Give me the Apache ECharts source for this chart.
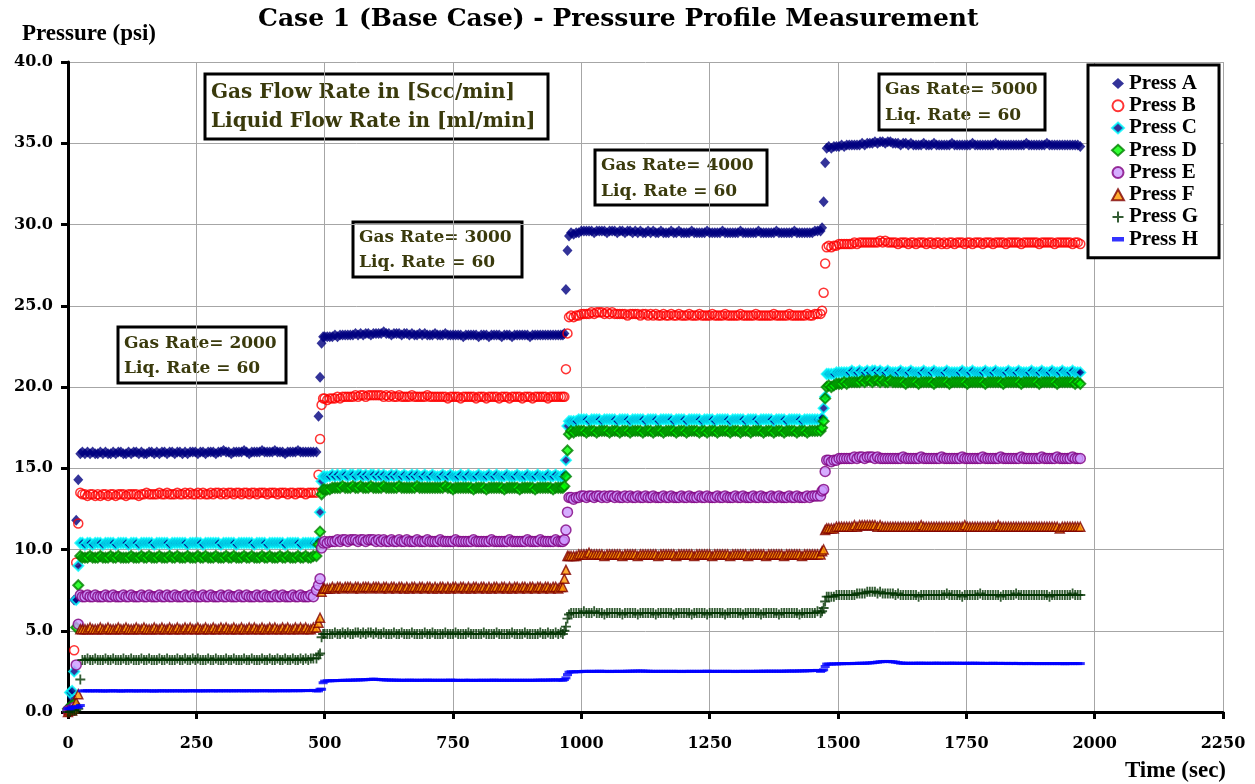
<!DOCTYPE html>
<html>
<head>
<meta charset="utf-8">
<title>Case 1 (Base Case) - Pressure Profile Measurement</title>
<script src="https://cdn.jsdelivr.net/npm/echarts@6/dist/echarts.min.js"></script>
<style>
  html, body { margin: 0; padding: 0; background: #ffffff; }
  #chart { width: 1255px; height: 784px; }
</style>
</head>
<body>
<div id="chart"></div>
<script>
// Sample times (sec): start-up, then four flow-rate steps with their transitions
const time = [
  0,4,8,12,16,20,24,28,
  33,38,43,48,53,58,63,68,73,78,
  83,88,93,98,103,108,113,118,123,128,
  133,138,143,148,153,158,163,168,173,178,
  183,188,193,198,203,208,213,218,223,228,
  233,238,243,248,253,258,263,268,273,278,
  283,288,293,298,303,308,313,318,323,328,
  333,338,343,348,353,358,363,368,373,378,
  383,388,393,398,403,408,413,418,423,428,
  433,438,443,448,453,458,463,468,473,478,
  484,488,491,494,497,500,
  505,510,515,520,525,530,535,540,545,550,
  555,560,565,570,575,580,585,590,595,600,
  605,610,615,620,625,630,635,640,645,650,
  655,660,665,670,675,680,685,690,695,700,
  705,710,715,720,725,730,735,740,745,750,
  755,760,765,770,775,780,785,790,795,800,
  805,810,815,820,825,830,835,840,845,850,
  855,860,865,870,875,880,885,890,895,900,
  905,910,915,920,925,930,935,940,945,950,
  955,960,
  964,967,970,973,976,980,
  985,990,995,1000,1005,1010,1015,1020,1025,1030,
  1035,1040,1045,1050,1055,1060,1065,1070,1075,1080,
  1085,1090,1095,1100,1105,1110,1115,1120,1125,1130,
  1135,1140,1145,1150,1155,1160,1165,1170,1175,1180,
  1185,1190,1195,1200,1205,1210,1215,1220,1225,1230,
  1235,1240,1245,1250,1255,1260,1265,1270,1275,1280,
  1285,1290,1295,1300,1305,1310,1315,1320,1325,1330,
  1335,1340,1345,1350,1355,1360,1365,1370,1375,1380,
  1385,1390,1395,1400,1405,1410,1415,1420,1425,1430,
  1435,1440,1445,1450,1455,1460,
  1466,1469,1472,1475,1478,1482,
  1487,1492,1497,1502,1507,1512,1517,1522,1527,1532,
  1537,1542,1547,1552,1557,1562,1567,1572,1577,1582,
  1587,1592,1597,1602,1607,1612,1617,1622,1627,1632,
  1637,1642,1647,1652,1657,1662,1667,1672,1677,1682,
  1687,1692,1697,1702,1707,1712,1717,1722,1727,1732,
  1737,1742,1747,1752,1757,1762,1767,1772,1777,1782,
  1787,1792,1797,1802,1807,1812,1817,1822,1827,1832,
  1837,1842,1847,1852,1857,1862,1867,1872,1877,1882,
  1887,1892,1897,1902,1907,1912,1917,1922,1927,1932,
  1937,1942,1947,1952,1957,1962,1967,1972
];

// Pressure readings (psi) at the eight taps
const pressA = [
  0.2,0.4,0.9,6.9,11.8,14.3,15.9,16.0,
  15.9,16.0,15.9,16.0,15.9,15.9,16.0,15.9,16.0,15.9,
  15.9,16.0,15.9,16.0,16.0,15.9,15.9,16.0,15.9,16.0,
  16.0,15.9,16.0,15.9,15.9,16.0,16.0,15.9,16.0,15.9,
  16.0,16.0,15.9,16.0,16.0,15.9,16.0,16.0,15.9,16.0,
  15.9,16.0,16.0,16.0,15.9,16.0,16.0,15.9,16.0,16.0,
  16.0,15.9,16.0,16.0,16.1,16.0,16.0,15.9,16.0,16.0,
  16.0,16.0,16.1,16.0,15.9,16.0,16.0,16.0,16.0,16.1,
  16.0,16.0,16.0,16.0,16.1,16.0,16.0,16.0,15.9,16.0,
  16.0,16.0,16.0,16.1,16.0,16.0,16.0,16.0,16.0,16.0,
  16.0,18.2,20.6,22.7,23.1,23.1,
  23.1,23.1,23.1,23.2,23.1,23.2,23.2,23.2,23.2,23.2,
  23.2,23.3,23.2,23.3,23.2,23.3,23.3,23.2,23.3,23.3,
  23.3,23.3,23.4,23.3,23.3,23.2,23.3,23.3,23.3,23.2,
  23.3,23.3,23.2,23.3,23.2,23.2,23.3,23.2,23.3,23.2,
  23.2,23.2,23.3,23.2,23.2,23.2,23.3,23.2,23.2,23.2,
  23.2,23.2,23.2,23.1,23.2,23.2,23.2,23.2,23.2,23.1,
  23.2,23.2,23.2,23.1,23.2,23.2,23.2,23.2,23.1,23.2,
  23.2,23.2,23.1,23.2,23.2,23.2,23.2,23.2,23.2,23.1,
  23.2,23.2,23.2,23.2,23.2,23.2,23.2,23.2,23.2,23.2,
  23.2,23.2,
  23.2,23.3,26.0,28.4,29.3,29.5,
  29.4,29.5,29.5,29.6,29.6,29.6,29.6,29.6,29.5,29.6,
  29.6,29.6,29.6,29.5,29.6,29.6,29.6,29.5,29.6,29.6,
  29.5,29.6,29.6,29.5,29.6,29.5,29.6,29.5,29.5,29.6,
  29.5,29.6,29.5,29.5,29.6,29.5,29.5,29.5,29.6,29.5,
  29.5,29.6,29.5,29.5,29.5,29.5,29.6,29.5,29.5,29.5,
  29.5,29.5,29.6,29.5,29.5,29.5,29.5,29.5,29.6,29.5,
  29.5,29.5,29.5,29.5,29.5,29.6,29.5,29.5,29.5,29.5,
  29.5,29.5,29.6,29.5,29.5,29.5,29.5,29.5,29.5,29.6,
  29.5,29.5,29.5,29.5,29.5,29.5,29.6,29.5,29.5,29.5,
  29.5,29.5,29.5,29.5,29.6,29.6,
  29.6,29.8,31.4,33.8,34.7,34.8,
  34.7,34.8,34.8,34.8,34.9,34.8,34.9,34.9,34.9,34.9,
  34.9,34.9,35.0,34.9,35.0,35.0,35.0,35.1,35.0,35.1,
  35.1,35.0,35.1,35.1,35.0,35.0,35.0,34.9,35.0,35.0,
  34.9,35.0,34.9,34.9,34.9,34.9,35.0,34.9,34.9,34.9,
  35.0,34.9,34.9,34.9,34.9,34.9,34.9,35.0,34.9,34.9,
  34.9,34.9,34.9,34.9,34.9,35.0,34.9,34.9,34.9,34.9,
  34.9,34.9,34.9,34.9,35.0,34.9,34.9,34.9,34.9,34.9,
  34.9,34.9,34.9,34.9,34.9,34.9,35.0,34.9,34.9,34.9,
  34.9,34.9,34.9,34.9,35.0,34.9,34.9,34.9,34.9,34.9,
  34.9,34.9,34.9,34.9,34.9,34.9,34.9,34.8
];
const pressB = [
  0.0,0.1,0.3,3.8,9.2,11.6,13.5,13.4,
  13.4,13.3,13.4,13.4,13.3,13.4,13.3,13.4,13.4,13.3,
  13.4,13.4,13.3,13.4,13.4,13.4,13.3,13.4,13.4,13.4,
  13.4,13.3,13.4,13.4,13.5,13.4,13.4,13.4,13.4,13.5,
  13.4,13.4,13.5,13.4,13.4,13.4,13.5,13.4,13.4,13.5,
  13.4,13.5,13.4,13.4,13.5,13.4,13.5,13.4,13.4,13.5,
  13.4,13.5,13.5,13.4,13.5,13.4,13.5,13.5,13.4,13.5,
  13.5,13.4,13.5,13.5,13.4,13.5,13.5,13.4,13.5,13.5,
  13.5,13.4,13.5,13.5,13.5,13.4,13.5,13.5,13.5,13.4,
  13.5,13.5,13.4,13.5,13.5,13.5,13.4,13.5,13.5,13.5,
  13.5,14.6,16.8,18.9,19.3,19.3,
  19.2,19.3,19.3,19.3,19.4,19.3,19.4,19.4,19.4,19.4,
  19.4,19.5,19.4,19.5,19.5,19.4,19.5,19.5,19.5,19.5,
  19.5,19.5,19.4,19.5,19.4,19.5,19.4,19.4,19.5,19.4,
  19.4,19.4,19.4,19.5,19.4,19.4,19.4,19.4,19.4,19.5,
  19.4,19.4,19.4,19.4,19.4,19.4,19.4,19.3,19.4,19.4,
  19.4,19.4,19.3,19.4,19.4,19.4,19.4,19.4,19.3,19.4,
  19.4,19.4,19.3,19.4,19.4,19.4,19.4,19.3,19.4,19.4,
  19.4,19.3,19.4,19.4,19.4,19.4,19.3,19.4,19.4,19.4,
  19.3,19.4,19.4,19.4,19.4,19.4,19.3,19.4,19.4,19.4,
  19.4,19.4,
  19.4,19.4,21.1,23.3,24.3,24.4,
  24.3,24.4,24.4,24.5,24.5,24.5,24.5,24.6,24.5,24.6,
  24.6,24.6,24.5,24.6,24.5,24.6,24.5,24.5,24.5,24.5,
  24.5,24.4,24.5,24.5,24.5,24.5,24.4,24.5,24.5,24.4,
  24.5,24.4,24.5,24.4,24.4,24.5,24.4,24.4,24.5,24.4,
  24.4,24.5,24.4,24.4,24.4,24.5,24.4,24.4,24.4,24.5,
  24.4,24.4,24.4,24.4,24.5,24.4,24.4,24.4,24.4,24.5,
  24.4,24.4,24.4,24.4,24.4,24.5,24.4,24.4,24.4,24.4,
  24.4,24.5,24.4,24.4,24.4,24.4,24.4,24.4,24.5,24.4,
  24.4,24.4,24.4,24.4,24.5,24.4,24.4,24.4,24.4,24.4,
  24.4,24.5,24.4,24.4,24.5,24.5,
  24.5,24.7,25.8,27.6,28.6,28.7,
  28.6,28.7,28.7,28.8,28.8,28.8,28.8,28.8,28.8,28.9,
  28.8,28.9,28.9,28.9,28.9,28.9,28.9,28.9,28.9,29.0,
  28.9,29.0,28.9,28.9,28.9,28.9,28.8,28.9,28.9,28.9,
  28.8,28.9,28.9,28.8,28.9,28.9,28.9,28.8,28.9,28.9,
  28.8,28.9,28.9,28.8,28.9,28.8,28.9,28.9,28.8,28.9,
  28.9,28.9,28.8,28.9,28.9,28.8,28.9,28.9,28.9,28.8,
  28.9,28.9,28.9,28.8,28.9,28.9,28.9,28.9,28.8,28.9,
  28.9,28.9,28.9,28.9,28.8,28.9,28.9,28.9,28.9,28.9,
  28.9,28.8,28.9,28.9,28.9,28.9,28.9,28.8,28.9,28.9,
  28.9,28.9,28.9,28.9,28.8,28.9,28.9,28.8
];
const pressC = [
  0.1,1.2,1.3,2.5,6.9,9.0,10.4,10.4,
  10.3,10.4,10.4,10.3,10.4,10.4,10.4,10.3,10.4,10.4,
  10.4,10.4,10.3,10.4,10.4,10.4,10.4,10.3,10.4,10.4,
  10.4,10.3,10.4,10.4,10.4,10.4,10.4,10.3,10.4,10.4,
  10.4,10.4,10.4,10.3,10.4,10.4,10.4,10.4,10.4,10.4,
  10.3,10.4,10.4,10.4,10.4,10.4,10.3,10.4,10.4,10.4,
  10.4,10.4,10.4,10.3,10.4,10.4,10.4,10.4,10.4,10.3,
  10.4,10.4,10.4,10.4,10.4,10.4,10.3,10.4,10.4,10.4,
  10.4,10.3,10.4,10.4,10.4,10.4,10.4,10.4,10.3,10.4,
  10.4,10.4,10.4,10.4,10.3,10.4,10.4,10.4,10.4,10.4,
  10.4,10.5,12.3,14.2,14.5,14.5,
  14.5,14.5,14.6,14.5,14.6,14.5,14.6,14.6,14.5,14.6,
  14.6,14.5,14.6,14.6,14.5,14.6,14.5,14.6,14.6,14.5,
  14.6,14.5,14.6,14.5,14.5,14.6,14.5,14.6,14.5,14.5,
  14.6,14.5,14.5,14.6,14.5,14.6,14.5,14.5,14.6,14.5,
  14.5,14.6,14.5,14.5,14.5,14.6,14.5,14.5,14.6,14.5,
  14.5,14.5,14.6,14.5,14.5,14.6,14.5,14.5,14.5,14.6,
  14.5,14.5,14.5,14.6,14.5,14.5,14.6,14.5,14.5,14.5,
  14.6,14.5,14.5,14.5,14.6,14.5,14.5,14.5,14.6,14.5,
  14.5,14.5,14.6,14.5,14.5,14.5,14.6,14.5,14.5,14.6,
  14.5,14.5,
  14.5,14.6,15.5,17.6,17.9,17.9,
  17.9,17.9,18.0,18.0,18.0,18.0,17.9,18.0,18.0,18.0,
  18.0,17.9,18.0,18.0,18.0,18.0,18.0,17.9,18.0,18.0,
  18.0,18.0,17.9,18.0,18.0,18.0,18.0,18.0,17.9,18.0,
  18.0,18.0,18.0,17.9,18.0,18.0,18.0,18.0,18.0,17.9,
  18.0,18.0,18.0,18.0,17.9,18.0,18.0,18.0,18.0,18.0,
  17.9,18.0,18.0,18.0,18.0,17.9,18.0,18.0,18.0,18.0,
  18.0,17.9,18.0,18.0,18.0,18.0,18.0,17.9,18.0,18.0,
  18.0,18.0,17.9,18.0,18.0,18.0,18.0,18.0,17.9,18.0,
  18.0,18.0,18.0,17.9,18.0,18.0,18.0,18.0,18.0,17.9,
  18.0,18.0,18.0,18.0,18.0,18.0,
  18.0,18.1,18.7,19.4,20.8,20.8,
  20.8,20.8,20.9,20.9,20.9,20.9,20.9,20.9,21.0,20.9,
  20.9,21.0,20.9,20.9,21.0,20.9,21.0,21.0,20.9,21.0,
  20.9,20.9,21.0,20.9,20.9,20.9,20.9,21.0,20.9,20.9,
  20.9,21.0,20.9,20.9,20.9,20.9,21.0,20.9,20.9,20.9,
  21.0,20.9,20.9,20.9,20.9,21.0,20.9,20.9,20.9,20.9,
  20.9,21.0,20.9,20.9,20.9,21.0,20.9,20.9,20.9,20.9,
  21.0,20.9,20.9,20.9,21.0,20.9,20.9,20.9,20.9,21.0,
  20.9,20.9,20.9,21.0,20.9,20.9,20.9,20.9,21.0,20.9,
  20.9,20.9,21.0,20.9,20.9,20.9,21.0,20.9,20.9,20.9,
  21.0,20.9,20.9,20.9,21.0,20.9,20.9,20.9
];
const pressD = [
  0.2,0.3,0.4,0.5,5.2,7.8,9.6,9.5,
  9.5,9.5,9.6,9.5,9.5,9.5,9.6,9.5,9.5,9.5,
  9.6,9.5,9.5,9.6,9.5,9.5,9.5,9.5,9.6,9.5,
  9.5,9.5,9.6,9.5,9.5,9.6,9.5,9.5,9.5,9.6,
  9.5,9.5,9.5,9.6,9.5,9.5,9.6,9.5,9.5,9.5,
  9.6,9.5,9.5,9.5,9.6,9.5,9.5,9.6,9.5,9.5,
  9.5,9.6,9.5,9.5,9.5,9.6,9.5,9.5,9.6,9.5,
  9.5,9.5,9.6,9.5,9.5,9.6,9.5,9.5,9.5,9.6,
  9.5,9.5,9.6,9.5,9.5,9.5,9.6,9.5,9.5,9.6,
  9.5,9.5,9.5,9.6,9.5,9.5,9.6,9.5,9.5,9.6,
  9.6,10.3,11.1,13.4,13.7,13.7,
  13.7,13.7,13.8,13.8,13.8,13.8,13.9,13.8,13.8,13.8,
  13.9,13.8,13.8,13.9,13.8,13.8,13.8,13.9,13.8,13.8,
  13.8,13.8,13.9,13.8,13.8,13.8,13.8,13.8,13.9,13.8,
  13.8,13.8,13.8,13.8,13.8,13.9,13.8,13.8,13.8,13.8,
  13.8,13.8,13.8,13.8,13.8,13.8,13.9,13.8,13.8,13.7,
  13.8,13.8,13.8,13.8,13.8,13.8,13.8,13.7,13.8,13.8,
  13.8,13.8,13.7,13.8,13.8,13.8,13.8,13.8,13.8,13.7,
  13.8,13.8,13.8,13.8,13.8,13.7,13.8,13.8,13.8,13.8,
  13.8,13.7,13.8,13.8,13.8,13.8,13.8,13.8,13.7,13.8,
  13.8,13.8,
  13.8,13.9,14.5,16.1,17.1,17.3,
  17.2,17.3,17.3,17.3,17.3,17.2,17.3,17.3,17.3,17.2,
  17.3,17.3,17.3,17.3,17.2,17.3,17.3,17.3,17.2,17.3,
  17.3,17.3,17.2,17.3,17.3,17.3,17.3,17.2,17.3,17.3,
  17.3,17.2,17.3,17.3,17.3,17.2,17.3,17.3,17.3,17.3,
  17.2,17.3,17.3,17.3,17.2,17.3,17.3,17.3,17.3,17.2,
  17.3,17.3,17.2,17.3,17.3,17.3,17.2,17.3,17.3,17.3,
  17.3,17.2,17.3,17.3,17.3,17.2,17.3,17.3,17.3,17.2,
  17.3,17.3,17.3,17.3,17.2,17.3,17.3,17.3,17.2,17.3,
  17.3,17.3,17.2,17.3,17.3,17.3,17.3,17.2,17.3,17.3,
  17.3,17.2,17.3,17.3,17.3,17.3,
  17.3,17.5,17.9,19.3,20.0,20.1,
  20.0,20.1,20.2,20.2,20.2,20.3,20.2,20.3,20.3,20.3,
  20.3,20.3,20.4,20.3,20.4,20.4,20.3,20.4,20.4,20.3,
  20.4,20.3,20.3,20.4,20.3,20.3,20.3,20.3,20.3,20.2,
  20.3,20.3,20.3,20.3,20.2,20.3,20.3,20.3,20.3,20.3,
  20.2,20.3,20.3,20.3,20.3,20.3,20.2,20.3,20.3,20.3,
  20.3,20.3,20.3,20.2,20.3,20.3,20.3,20.3,20.3,20.3,
  20.2,20.3,20.3,20.3,20.3,20.3,20.3,20.2,20.3,20.3,
  20.3,20.3,20.3,20.3,20.2,20.3,20.3,20.3,20.3,20.3,
  20.3,20.2,20.3,20.3,20.3,20.3,20.3,20.3,20.2,20.3,
  20.3,20.3,20.3,20.3,20.3,20.2,20.3,20.2
];
const pressE = [
  0.1,0.1,0.2,0.3,2.9,5.4,7.2,7.1,
  7.1,7.2,7.1,7.1,7.2,7.1,7.1,7.1,7.2,7.1,
  7.1,7.2,7.1,7.1,7.1,7.2,7.1,7.1,7.2,7.1,
  7.1,7.1,7.2,7.1,7.1,7.2,7.1,7.1,7.1,7.2,
  7.1,7.1,7.2,7.1,7.1,7.2,7.1,7.1,7.1,7.2,
  7.1,7.1,7.2,7.1,7.1,7.1,7.2,7.1,7.1,7.2,
  7.1,7.1,7.1,7.2,7.1,7.1,7.2,7.1,7.1,7.1,
  7.2,7.1,7.1,7.2,7.1,7.1,7.1,7.2,7.1,7.1,
  7.2,7.1,7.1,7.1,7.2,7.1,7.1,7.2,7.1,7.1,
  7.1,7.2,7.1,7.1,7.2,7.1,7.1,7.1,7.2,7.1,
  7.5,7.8,8.2,10.1,10.4,10.5,
  10.4,10.5,10.5,10.5,10.6,10.5,10.6,10.6,10.5,10.6,
  10.6,10.6,10.5,10.6,10.6,10.5,10.6,10.6,10.6,10.5,
  10.6,10.5,10.6,10.5,10.5,10.6,10.5,10.5,10.6,10.5,
  10.5,10.6,10.5,10.5,10.5,10.6,10.5,10.5,10.5,10.6,
  10.5,10.5,10.5,10.5,10.6,10.5,10.5,10.5,10.5,10.5,
  10.6,10.5,10.5,10.5,10.5,10.5,10.5,10.6,10.5,10.5,
  10.5,10.5,10.5,10.5,10.6,10.5,10.5,10.5,10.5,10.5,
  10.5,10.6,10.5,10.5,10.5,10.5,10.5,10.5,10.6,10.5,
  10.5,10.5,10.5,10.6,10.5,10.5,10.5,10.5,10.5,10.6,
  10.5,10.5,
  10.5,10.6,11.2,12.3,13.2,13.2,
  13.1,13.2,13.2,13.3,13.3,13.2,13.3,13.3,13.2,13.3,
  13.3,13.2,13.3,13.2,13.3,13.3,13.2,13.3,13.2,13.2,
  13.3,13.2,13.3,13.2,13.2,13.3,13.2,13.2,13.3,13.2,
  13.2,13.3,13.2,13.2,13.2,13.3,13.2,13.2,13.3,13.2,
  13.2,13.2,13.3,13.2,13.2,13.3,13.2,13.2,13.2,13.3,
  13.2,13.2,13.3,13.2,13.2,13.2,13.3,13.2,13.2,13.3,
  13.2,13.2,13.2,13.3,13.2,13.2,13.3,13.2,13.2,13.2,
  13.3,13.2,13.2,13.3,13.2,13.2,13.2,13.3,13.2,13.2,
  13.3,13.2,13.2,13.2,13.3,13.2,13.2,13.3,13.2,13.2,
  13.2,13.3,13.2,13.3,13.3,13.3,
  13.3,13.6,13.7,14.8,15.5,15.5,
  15.4,15.5,15.5,15.6,15.6,15.6,15.6,15.6,15.6,15.7,
  15.6,15.7,15.7,15.6,15.7,15.7,15.7,15.6,15.7,15.6,
  15.6,15.6,15.6,15.6,15.6,15.6,15.6,15.6,15.7,15.6,
  15.6,15.6,15.6,15.6,15.6,15.7,15.6,15.6,15.6,15.6,
  15.6,15.6,15.6,15.7,15.6,15.6,15.6,15.6,15.6,15.6,
  15.6,15.7,15.6,15.6,15.6,15.6,15.6,15.6,15.6,15.7,
  15.6,15.6,15.6,15.6,15.6,15.6,15.7,15.6,15.6,15.6,
  15.6,15.6,15.6,15.6,15.7,15.6,15.6,15.6,15.6,15.6,
  15.6,15.6,15.7,15.6,15.6,15.6,15.6,15.6,15.7,15.6,
  15.6,15.6,15.6,15.6,15.7,15.6,15.6,15.6
];
const pressF = [
  0.0,0.1,0.1,0.2,0.6,1.1,5.1,5.1,
  5.1,5.1,5.2,5.1,5.1,5.1,5.2,5.1,5.1,5.2,
  5.1,5.1,5.1,5.2,5.1,5.1,5.2,5.1,5.1,5.1,
  5.2,5.1,5.1,5.2,5.1,5.1,5.1,5.2,5.1,5.1,
  5.2,5.1,5.1,5.2,5.1,5.1,5.2,5.1,5.1,5.2,
  5.1,5.2,5.1,5.1,5.2,5.1,5.1,5.2,5.1,5.1,
  5.2,5.1,5.1,5.2,5.1,5.2,5.1,5.1,5.2,5.1,
  5.1,5.2,5.1,5.1,5.2,5.1,5.2,5.1,5.1,5.2,
  5.1,5.1,5.2,5.1,5.2,5.1,5.1,5.2,5.1,5.2,
  5.1,5.1,5.2,5.1,5.2,5.1,5.2,5.1,5.1,5.2,
  5.2,5.5,5.8,7.4,7.6,7.6,
  7.6,7.6,7.7,7.6,7.7,7.7,7.6,7.7,7.7,7.7,
  7.6,7.7,7.7,7.6,7.7,7.7,7.7,7.6,7.7,7.7,
  7.7,7.6,7.7,7.7,7.6,7.7,7.7,7.6,7.7,7.7,
  7.6,7.7,7.6,7.7,7.7,7.6,7.7,7.7,7.6,7.7,
  7.7,7.6,7.7,7.6,7.7,7.7,7.6,7.7,7.6,7.7,
  7.7,7.6,7.7,7.7,7.6,7.7,7.6,7.7,7.7,7.6,
  7.7,7.7,7.6,7.7,7.6,7.7,7.7,7.6,7.7,7.7,
  7.6,7.7,7.6,7.7,7.7,7.6,7.7,7.7,7.6,7.7,
  7.7,7.6,7.7,7.7,7.6,7.7,7.7,7.6,7.7,7.7,
  7.6,7.7,
  7.7,8.2,8.75,9.6,9.6,9.6,
  9.6,9.6,9.7,9.7,9.7,9.7,9.8,9.7,9.7,9.7,
  9.7,9.7,9.6,9.7,9.7,9.7,9.7,9.7,9.7,9.6,
  9.7,9.7,9.7,9.7,9.7,9.6,9.7,9.7,9.7,9.7,
  9.7,9.7,9.7,9.6,9.7,9.7,9.7,9.7,9.7,9.7,
  9.6,9.7,9.7,9.7,9.7,9.7,9.7,9.6,9.7,9.7,
  9.7,9.7,9.7,9.7,9.6,9.7,9.7,9.7,9.7,9.7,
  9.7,9.6,9.7,9.7,9.7,9.7,9.7,9.7,9.6,9.7,
  9.7,9.7,9.7,9.7,9.7,9.6,9.7,9.7,9.7,9.7,
  9.7,9.7,9.6,9.7,9.7,9.7,9.7,9.7,9.7,9.6,
  9.7,9.7,9.7,9.7,9.7,9.7,
  9.7,9.9,10.0,11.2,11.3,11.3,
  11.3,11.3,11.4,11.4,11.4,11.4,11.4,11.4,11.4,11.5,
  11.4,11.5,11.5,11.5,11.5,11.5,11.5,11.5,11.4,11.5,
  11.4,11.4,11.4,11.4,11.4,11.4,11.4,11.4,11.4,11.4,
  11.4,11.4,11.4,11.4,11.4,11.5,11.4,11.4,11.4,11.4,
  11.4,11.4,11.4,11.4,11.4,11.4,11.4,11.4,11.4,11.4,
  11.4,11.4,11.5,11.4,11.4,11.4,11.4,11.4,11.4,11.4,
  11.4,11.4,11.4,11.4,11.4,11.5,11.4,11.4,11.4,11.4,
  11.4,11.4,11.4,11.4,11.4,11.4,11.4,11.4,11.4,11.4,
  11.4,11.4,11.4,11.4,11.4,11.4,11.4,11.4,11.4,11.3,
  11.4,11.4,11.4,11.4,11.4,11.4,11.4,11.4
];
const pressG = [
  0.0,0.0,0.1,0.1,0.1,0.2,2.0,3.2,
  3.2,3.3,3.2,3.2,3.3,3.2,3.2,3.2,3.3,3.2,
  3.2,3.3,3.2,3.2,3.2,3.3,3.2,3.2,3.3,3.2,
  3.2,3.2,3.3,3.2,3.2,3.3,3.2,3.2,3.2,3.3,
  3.2,3.2,3.3,3.2,3.2,3.2,3.3,3.2,3.2,3.3,
  3.2,3.2,3.3,3.2,3.3,3.2,3.2,3.2,3.3,3.2,
  3.2,3.3,3.2,3.2,3.2,3.3,3.2,3.2,3.3,3.2,
  3.2,3.2,3.3,3.2,3.2,3.3,3.2,3.2,3.2,3.3,
  3.2,3.2,3.3,3.2,3.2,3.3,3.2,3.2,3.3,3.2,
  3.2,3.3,3.2,3.2,3.3,3.2,3.3,3.2,3.3,3.3,
  3.3,3.5,3.6,4.6,4.8,4.8,
  4.8,4.8,4.8,4.9,4.8,4.8,4.9,4.8,4.9,4.8,
  4.8,4.9,4.9,4.8,4.9,4.8,4.9,4.9,4.8,4.9,
  4.8,4.8,4.9,4.8,4.8,4.8,4.9,4.8,4.8,4.9,
  4.8,4.8,4.8,4.9,4.8,4.8,4.8,4.8,4.9,4.8,
  4.8,4.9,4.8,4.8,4.8,4.8,4.9,4.8,4.8,4.8,
  4.9,4.8,4.8,4.8,4.8,4.9,4.8,4.8,4.8,4.8,
  4.8,4.9,4.8,4.8,4.8,4.8,4.9,4.8,4.8,4.8,
  4.8,4.8,4.9,4.8,4.8,4.8,4.8,4.9,4.8,4.8,
  4.8,4.8,4.8,4.9,4.8,4.8,4.9,4.8,4.8,4.9,
  4.8,4.9,
  4.8,5.0,5.25,5.75,6.0,6.1,
  6.1,6.1,6.1,6.1,6.2,6.1,6.1,6.1,6.2,6.1,
  6.1,6.1,6.0,6.1,6.1,6.1,6.1,6.1,6.1,6.0,
  6.1,6.1,6.1,6.1,6.1,6.0,6.1,6.1,6.1,6.1,
  6.1,6.1,6.0,6.1,6.1,6.1,6.1,6.1,6.1,6.0,
  6.1,6.1,6.1,6.1,6.1,6.1,6.0,6.1,6.1,6.1,
  6.1,6.1,6.0,6.1,6.1,6.1,6.1,6.1,6.1,6.0,
  6.1,6.1,6.1,6.1,6.1,6.1,6.0,6.1,6.1,6.1,
  6.1,6.1,6.1,6.0,6.1,6.1,6.1,6.1,6.1,6.1,
  6.0,6.1,6.1,6.1,6.1,6.1,6.1,6.1,6.0,6.1,
  6.1,6.1,6.1,6.1,6.1,6.2,
  6.1,6.2,6.4,6.8,7.1,7.1,
  7.1,7.1,7.2,7.2,7.2,7.2,7.2,7.2,7.2,7.2,
  7.3,7.3,7.3,7.3,7.4,7.4,7.4,7.4,7.3,7.4,
  7.3,7.3,7.3,7.3,7.3,7.2,7.3,7.2,7.2,7.2,
  7.2,7.2,7.2,7.2,7.1,7.2,7.2,7.2,7.2,7.2,
  7.2,7.2,7.2,7.2,7.2,7.3,7.2,7.2,7.2,7.2,
  7.2,7.1,7.2,7.2,7.2,7.2,7.2,7.2,7.3,7.2,
  7.2,7.2,7.2,7.2,7.2,7.2,7.1,7.2,7.2,7.2,
  7.2,7.2,7.3,7.2,7.2,7.2,7.2,7.2,7.2,7.2,
  7.2,7.2,7.2,7.2,7.2,7.1,7.2,7.2,7.2,7.2,
  7.2,7.2,7.2,7.2,7.3,7.2,7.2,7.2
];
const pressH = [
  0.2,0.2,0.3,0.3,0.3,0.3,0.4,1.3,
  1.30,1.31,1.30,1.30,1.30,1.31,1.30,1.29,1.30,1.30,
  1.30,1.31,1.30,1.30,1.29,1.30,1.30,1.31,1.30,1.30,
  1.30,1.30,1.30,1.31,1.30,1.30,1.30,1.29,1.30,1.30,
  1.31,1.30,1.30,1.30,1.31,1.30,1.30,1.31,1.30,1.30,
  1.30,1.31,1.31,1.30,1.30,1.31,1.30,1.30,1.31,1.31,
  1.30,1.31,1.30,1.31,1.31,1.30,1.31,1.31,1.30,1.31,
  1.31,1.31,1.30,1.31,1.31,1.31,1.30,1.31,1.31,1.31,
  1.31,1.31,1.31,1.30,1.31,1.31,1.31,1.31,1.31,1.31,
  1.31,1.31,1.32,1.31,1.31,1.32,1.32,1.32,1.32,1.33,
  1.3,1.3,1.4,1.4,1.8,1.9,
  1.92,1.92,1.93,1.93,1.94,1.94,1.95,1.95,1.95,1.96,
  1.96,1.97,1.97,1.98,1.98,1.99,2.00,2.01,2.02,2.01,
  2.00,1.99,1.98,1.97,1.97,1.96,1.96,1.96,1.95,1.95,
  1.95,1.95,1.96,1.95,1.95,1.95,1.95,1.95,1.95,1.96,
  1.95,1.95,1.95,1.95,1.95,1.95,1.95,1.95,1.96,1.95,
  1.95,1.95,1.94,1.95,1.95,1.95,1.95,1.94,1.95,1.95,
  1.95,1.95,1.95,1.95,1.95,1.96,1.95,1.95,1.95,1.95,
  1.95,1.95,1.95,1.95,1.95,1.95,1.95,1.95,1.95,1.95,
  1.95,1.95,1.96,1.96,1.96,1.96,1.96,1.97,1.97,1.97,
  1.97,1.97,
  1.95,2.0,2.1,2.3,2.45,2.48,
  2.47,2.48,2.48,2.49,2.50,2.50,2.50,2.50,2.50,2.50,
  2.51,2.50,2.50,2.50,2.49,2.50,2.50,2.50,2.50,2.50,
  2.50,2.51,2.51,2.51,2.52,2.52,2.52,2.52,2.51,2.51,
  2.50,2.50,2.50,2.50,2.50,2.50,2.50,2.50,2.50,2.50,
  2.50,2.50,2.49,2.50,2.50,2.50,2.50,2.50,2.50,2.50,
  2.50,2.50,2.51,2.50,2.50,2.50,2.50,2.50,2.50,2.50,
  2.50,2.50,2.50,2.49,2.50,2.50,2.50,2.50,2.50,2.50,
  2.50,2.50,2.51,2.50,2.51,2.51,2.51,2.51,2.51,2.51,
  2.51,2.51,2.51,2.52,2.52,2.52,2.52,2.52,2.53,2.53,
  2.53,2.54,2.54,2.55,2.55,2.56,
  2.5,2.55,2.6,2.8,2.95,2.95,
  2.95,2.96,2.96,2.97,2.97,2.98,2.98,2.98,2.98,2.99,
  2.99,3.00,3.00,3.00,3.01,3.02,3.03,3.05,3.07,3.09,
  3.10,3.11,3.11,3.10,3.09,3.07,3.04,3.01,3.00,3.00,
  3.00,2.99,3.00,3.00,3.00,3.00,3.00,3.00,2.99,3.00,
  3.00,3.00,3.00,3.00,2.99,3.00,3.00,3.00,3.00,3.00,
  2.99,3.00,3.00,2.99,3.00,3.00,3.00,2.99,3.00,2.99,
  2.99,2.99,2.99,3.00,2.99,2.99,2.99,2.99,2.99,2.98,
  2.99,2.99,2.98,2.99,2.98,2.98,2.98,2.99,2.98,2.98,
  2.98,2.98,2.98,2.98,2.98,2.98,2.98,2.98,2.98,2.98,
  2.98,2.97,2.98,2.98,2.98,2.98,2.98,2.98
];

const seriesNames = ['Press A','Press B','Press C','Press D','Press E','Press F','Press G','Press H'];
const seriesValues = [pressA, pressB, pressC, pressD, pressE, pressF, pressG, pressH];

const xTicks = { min: 0, max: 2250, step: 250 };
const yTicks = { min: 0, max: 40, step: 5 };

// Flow-rate notes
const noteTexts = [
  ['Gas Flow Rate in [Scc/min]', 'Liquid Flow Rate in [ml/min]'],
  ['Gas Rate= 2000', 'Liq. Rate = 60'],
  ['Gas Rate= 3000', 'Liq. Rate = 60'],
  ['Gas Rate= 4000', 'Liq. Rate = 60'],
  ['Gas Rate= 5000', 'Liq. Rate = 60']
];

seriesValues.forEach(function (v, i) {
  if (v.length !== time.length) {
    throw new Error(seriesNames[i] + ' has ' + v.length + ' values, expected ' + time.length);
  }
});

// Marker look per tap
const PLUS = 'path://M0,4.1H10V5.9H0Z M4.1,0H5.9V10H4.1Z';
const DASH = 'path://M0,0H8V3H0Z';
const markerStyles = [
  { symbol: 'diamond', size: [10, 11], item: { color: '#000080' } },
  { symbol: 'circle', size: 9, item: { color: 'rgba(255,255,255,0)', borderColor: '#ff0000', borderWidth: 1.5 } },
  { symbol: 'diamond', size: [10, 10], item: { color: '#000080', borderColor: '#00ffff', borderWidth: 2 } },
  { symbol: 'diamond', size: [10, 10], item: { color: '#00ff00', borderColor: '#008000', borderWidth: 2 } },
  { symbol: 'circle', size: 10, item: { color: '#cc99ff', borderColor: '#800080', borderWidth: 1.5 } },
  { symbol: 'triangle', size: 9, item: { color: '#ff9900', borderColor: '#800000', borderWidth: 1.5 } },
  { symbol: PLUS, size: 10, item: { color: '#003300' } },
  { symbol: 'rect', size: [9, 3], item: { color: '#0000ff' } }
];
const legendIcons = ['diamond', 'circle', 'diamond', 'diamond', 'circle', 'triangle', PLUS, DASH];

const series = seriesNames.map(function (name, i) {
  const m = markerStyles[i];
  return {
    name: name,
    type: 'scatter',
    symbol: m.symbol,
    symbolSize: m.size,
    itemStyle: m.item,
    data: time.map(function (t, k) { return [t, seriesValues[i][k]]; }),
    emphasis: { disabled: true }
  };
});

const noteLayout = [
  { x: 205, y: 74, w: 343, h: 65, lh: 29, size: 20 },
  { x: 118, y: 327, w: 168, h: 56, lh: 25, size: 17 },
  { x: 353, y: 222, w: 169, h: 55, lh: 25, size: 17 },
  { x: 595, y: 150, w: 172, h: 55, lh: 26, size: 17 },
  { x: 879, y: 74, w: 166, h: 56, lh: 26, size: 17 }
];
const graphics = noteTexts.map(function (lines, i) {
  const L = noteLayout[i];
  return {
    type: 'group',
    z: 100,
    children: [
      { type: 'rect', shape: { x: L.x, y: L.y, width: L.w, height: L.h },
        style: { fill: '#ffffff', stroke: '#000000', lineWidth: 3 } },
      { type: 'text', style: { text: lines.join('\n'), x: L.x + 6, y: L.y + (L.h - 2 * L.lh) / 2 + 1,
        font: 'bold ' + L.size + 'px "DejaVu Serif"', fill: '#3a3a0c', lineHeight: L.lh, verticalAlign: 'top' } }
    ]
  };
});

const labelFont = { fontFamily: 'DejaVu Serif', fontWeight: 'bold', fontSize: 16, color: '#000000' };
const nameFont = { fontFamily: 'Liberation Serif', fontWeight: 'bold', fontSize: 23, color: '#000000' };

const chart = echarts.init(document.getElementById('chart'), null, { renderer: 'canvas' });
chart.setOption({
  animation: false,
  backgroundColor: '#ffffff',
  title: [
    { text: 'Case 1 (Base Case) - Pressure Profile Measurement', left: 253, top: 2,
      textStyle: { fontFamily: 'DejaVu Serif', fontWeight: 'bold', fontSize: 25, color: '#000000' } },
    { text: 'Pressure (psi)', left: 17, top: 18, textStyle: nameFont },
    { text: 'Time (sec)', right: 24, top: 755, textStyle: nameFont }
  ],
  grid: { left: 68, right: 32, top: 62, bottom: 72, containLabel: false },
  legend: {
    orient: 'vertical',
    left: 1088, top: 65,
    padding: [8, 21, 8, 23],
    itemGap: 1.25,
    itemWidth: 12, itemHeight: 11,
    selectedMode: false,
    backgroundColor: '#ffffff',
    borderColor: '#000000', borderWidth: 3,
    textStyle: { fontFamily: 'Liberation Serif', fontWeight: 'bold', fontSize: 21, lineHeight: 21, color: '#000000' },
    data: seriesNames.map(function (n, i) { return { name: n, icon: legendIcons[i] }; })
  },
  xAxis: {
    type: 'value',
    min: xTicks.min, max: xTicks.max, interval: xTicks.step,
    axisLine: { show: true, onZero: false, lineStyle: { color: '#000000', width: 3 } },
    axisTick: { show: true, length: 7, lineStyle: { color: '#000000', width: 3 } },
    axisLabel: Object.assign({ margin: 24, formatter: function (v) { return String(v); } }, labelFont),
    splitLine: { show: true, lineStyle: { color: '#a6a6a6', width: 1 } }
  },
  yAxis: {
    type: 'value',
    min: yTicks.min, max: yTicks.max, interval: yTicks.step,
    axisLine: { show: true, onZero: false, lineStyle: { color: '#000000', width: 3 } },
    axisTick: { show: true, length: 7, lineStyle: { color: '#000000', width: 3 } },
    axisLabel: Object.assign({ margin: 15, formatter: function (v) { return v.toFixed(1); } }, labelFont),
    splitLine: { show: true, lineStyle: { color: '#a6a6a6', width: 1 } }
  },
  graphic: graphics,
  series: series
});
</script>
</body>
</html>
